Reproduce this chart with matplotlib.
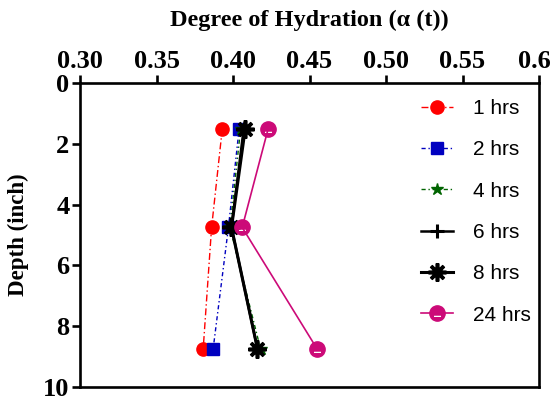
import matplotlib
matplotlib.use("Agg")
import matplotlib.pyplot as plt
import matplotlib.transforms as mtransforms
from matplotlib.path import Path

depth = [1.5, 4.75, 8.75]
labels = ["1 hrs", "2 hrs", "4 hrs", "6 hrs", "8 hrs", "24 hrs"]
alpha_1h = [0.393, 0.386, 0.3805]
alpha_2h = [0.404, 0.397, 0.387]
alpha_4h = [0.405, 0.398, 0.418]
alpha_6h = [0.407, 0.399, 0.416]
alpha_8h = [0.408, 0.399, 0.416]
alpha_24h = [0.423, 0.406, 0.455]
x_ticks = [0.30, 0.35, 0.40, 0.45, 0.50, 0.55, 0.60]
x_ticklabels = ["0.30", "0.35", "0.40", "0.45", "0.50", "0.55", "0.6"]
y_ticks = [0, 2, 4, 6, 8, 10]

# circle marker with a small white slot in its lower half
circ = Path.unit_circle()
slot = Path([(-0.55, -0.55), (-0.55, -0.2), (0.55, -0.2), (0.55, -0.55), (-0.55, -0.55)],
            [Path.MOVETO, Path.LINETO, Path.LINETO, Path.LINETO, Path.CLOSEPOLY])
slot_circle = Path.make_compound_path(circ, slot)

fig = plt.figure(figsize=(5.5, 4), dpi=100)
ax = fig.add_axes([0.1455, 0.0325, 0.8345, 0.76])

serif = ["Liberation Serif", "DejaVu Serif"]

ax.plot(alpha_1h, depth, color="#FF0000", ls=(0, (5, 2, 1, 2)), lw=1.0,
        marker="o", ms=9.5, label=labels[0])
ax.plot(alpha_2h, depth, color="#0000C0", ls=(0, (3, 2, 1, 2)), lw=1.0,
        marker="s", ms=9, label=labels[1])
ax.plot(alpha_4h, depth, color="#006400", ls=(0, (3, 2, 1, 2)), lw=1.0,
        marker="*", ms=9, label=labels[2])
ax.plot(alpha_6h, depth, color="black", ls="-", lw=1.8,
        marker="+", ms=10, mew=2.2, label=labels[3])
ax.plot(alpha_8h, depth, color="black", ls="-", lw=2.2,
        marker=(8, 2, 0), ms=13, mew=2.6, label=labels[4])
ax.plot(alpha_24h, depth, color="#CC0A78", ls="-", lw=1.2,
        marker=slot_circle, ms=11, mfc="#CC0A78", mec="#CC0A78", label=labels[5])

ax.set_xlim(0.30, 0.60)
ax.set_ylim(10, 0)
ax.xaxis.set_ticks_position("top")
ax.xaxis.set_label_position("top")
ax.set_xticks(x_ticks)
ax.set_xticklabels(x_ticklabels)
ax.set_yticks(y_ticks)

for sp in ax.spines.values():
    sp.set_linewidth(1.9)
ax.tick_params(axis="both", direction="out", length=6, width=1.9, pad=1.5)
for t in ax.get_xticklabels() + ax.get_yticklabels():
    t.set_fontfamily(serif)
    t.set_fontweight("bold")
    t.set_fontsize(19)

# keep the last x tick label inside the canvas
last = ax.get_xticklabels()[-1]
last.set_transform(last.get_transform() +
                   mtransforms.ScaledTranslation(-5 / 100, 0, fig.dpi_scale_trans))

ax.set_xlabel("Degree of Hydration (\u03b1 (t))", fontfamily=serif, fontweight="bold",
              fontsize=17.5, labelpad=17)
ax.set_ylabel("Depth (inch)", fontfamily=serif, fontweight="bold", fontsize=16.5, labelpad=10)

leg = ax.legend(loc="upper right", bbox_to_anchor=(1.015, 0.995), frameon=False,
                prop={"family": ["Liberation Sans", "DejaVu Sans"], "size": 15},
                handlelength=1.5, labelspacing=1.07, handletextpad=1.0,
                borderaxespad=0.3)

fig.savefig("out.png", dpi=100)
